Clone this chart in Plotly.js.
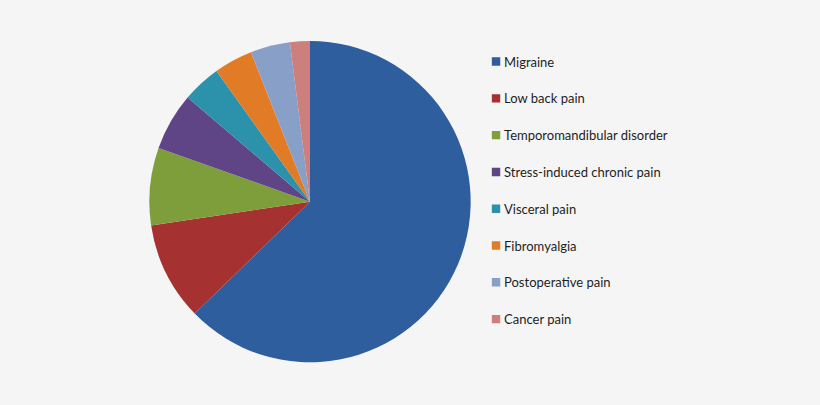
<!DOCTYPE html>
<html>
<head>
<meta charset="utf-8">
<script src="https://cdn.plot.ly/plotly-3.0.1.min.js"></script>
<style>
html,body{margin:0;padding:0;background:#f5f5f5;}
#chart{width:820px;height:405px;}
#chart .legend .legendpoints path.legendpie{transform:translate(32px,0px) scale(0.7);}
</style>
</head>
<body>
<div id="chart"></div>
<script>
const categories = ["Migraine", "Low back pain", "Temporomandibular disorder", "Stress-induced chronic pain", "Visceral pain", "Fibromyalgia", "Postoperative pain", "Cancer pain"];
const shares = [62.8, 9.9, 7.8, 5.8, 3.9, 3.9, 4.0, 2.0];
const sliceColors = ["#2f5e9e", "#a53130", "#7e9e3b", "#5f4586", "#2c91ab", "#e27b26", "#889fc8", "#cd7f7e"];

const legendLabels = categories.map(c => c + "<br> ");

const trace = {
  type: "pie",
  labels: legendLabels,
  values: shares,
  sort: false,
  direction: "clockwise",
  rotation: 0,
  textinfo: "none",
  hoverinfo: "none",
  marker: {colors: sliceColors, line: {width: 0}},
  domain: {x: [0.1821, 0.574], y: [0.1054, 0.8988]}
};

const layout = {
  width: 820,
  height: 405,
  margin: {l: 0, r: 0, t: 0, b: 0},
  paper_bgcolor: "#f5f5f5",
  plot_bgcolor: "#f5f5f5",
  showlegend: true,
  legend: {
    x: 0.5659, y: 0.885, xanchor: "left", yanchor: "top",
    valign: "top",
    bgcolor: "rgba(0,0,0,0)",
    font: {family: "Lato, 'Open Sans', sans-serif", size: 13, color: "#1e1e1e"},
    itemclick: false, itemdoubleclick: false
  }
};

Plotly.newPlot("chart", [trace], layout, {displayModeBar: false, staticPlot: true});
</script>
</body>
</html>
